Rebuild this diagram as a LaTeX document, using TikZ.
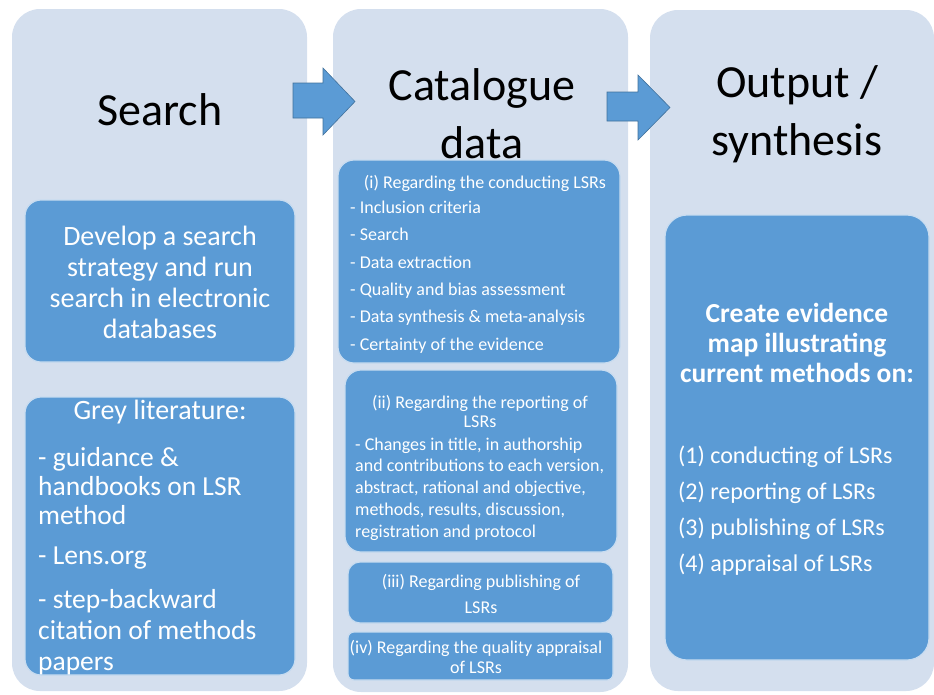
\documentclass[tikz,border=0pt]{standalone}
\usepackage{fontspec}
\setmainfont{Carlito}
\definecolor{panelc}{RGB}{212,223,238}
\definecolor{boxc}{RGB}{91,155,213}
\definecolor{boxedge}{RGB}{200,220,240}
\definecolor{arrowedge}{RGB}{65,113,156}
\begin{document}
\begin{tikzpicture}[x=1pt,y=-1pt,
  panel/.style={fill=panelc,draw=none,rounded corners=28pt,inner sep=0pt},
  ibox/.style={fill=boxc,draw=boxedge,line width=1.2pt,rounded corners=16pt,inner sep=0pt},
  title/.style={font=\fontsize{46}{58}\selectfont,align=center,text=black,inner sep=0pt},
  wtext/.style={text=white,inner sep=0pt},
  blockarrow/.style={fill=boxc,draw=arrowedge,line width=0.6pt}
]
\useasboundingbox (0,0) rectangle (934,694);
% panels
\node[panel,minimum width=295pt,minimum height=682pt] (p1) at (159.5,350) {};
\node[panel,minimum width=295pt,minimum height=683pt] (p2) at (480.5,350.5) {};
\node[panel,minimum width=284pt,minimum height=681pt] (p3) at (792,350.5) {};
% titles
\node[title] (t1) at (160,110) {Search};
\node[title] (t2) at (482,114) {Catalogue\\data};
\node[title] (t3) at (797,114) {Output /\\synthesis};
% arrows
\draw[blockarrow] (293,83) -- (323,83) -- (323,68) -- (355,101.5) -- (323,135) -- (323,118) -- (293,118) -- cycle;
\draw[blockarrow] (607,92) -- (638,92) -- (638,75) -- (670,107.5) -- (638,140) -- (638,121) -- (607,121) -- cycle;
% left boxes
\node[ibox,minimum width=270pt,minimum height=162pt] (l1) at (160,281) {};
\node[wtext,align=center,font=\fontsize{28}{31}\selectfont] (l1t) at (160,282) {Develop a search\\strategy and run\\search in electronic\\databases};
\node[ibox,minimum width=270pt,minimum height=278pt] (l2) at (160,536) {};
\node[wtext,font=\fontsize{28}{30}\selectfont] (l2h) at (160,412) {Grey literature:};
\node[wtext,anchor=west,align=left,font=\fontsize{27.5}{29}\selectfont] (l2a) at (38,486) {- guidance \&\\handbooks on LSR\\method};
\node[wtext,anchor=west,align=left,font=\fontsize{27.5}{30}\selectfont] (l2b) at (38,558) {- Lens.org};
\node[wtext,anchor=west,align=left,font=\fontsize{27.5}{31}\selectfont] (l2c) at (38,632) {- step-backward\\citation of methods\\papers};
% middle boxes
\node[ibox,minimum width=282pt,minimum height=203pt] (m1) at (479,261.5) {};
\node[wtext,font=\fontsize{18}{27}\selectfont] (m1h) at (485,183) {(i) Regarding the conducting LSRs};
\node[wtext,anchor=west,align=left,font=\fontsize{18}{27.3}\selectfont] (m1t) at (350,277) {- Inclusion criteria\\- Search\\- Data extraction\\- Quality and bias assessment\\- Data synthesis \& meta-analysis\\- Certainty of the evidence};
\node[ibox,minimum width=272pt,minimum height=182pt] (m2) at (481,461) {};
\node[wtext,align=center,font=\fontsize{18}{19}\selectfont] (m2h) at (480,411) {(ii) Regarding the reporting of\\LSRs};
\node[wtext,anchor=west,align=left,font=\fontsize{18}{21.8}\selectfont] (m2t) at (355,489) {- Changes in title, in authorship\\and contributions to each version,\\abstract, rational and objective,\\methods, results, discussion,\\registration and protocol};
\node[ibox,minimum width=265pt,minimum height=61pt,rounded corners=12pt] (m3) at (480.5,592.5) {};
\node[wtext,align=center,font=\fontsize{18}{26}\selectfont] (m3t) at (481,594) {(iii) Regarding publishing of\\LSRs};
\node[ibox,minimum width=265pt,minimum height=48pt,rounded corners=6pt] (m4) at (480.5,656) {};
\node[wtext,align=center,font=\fontsize{18}{20}\selectfont] (m4t) at (476,657) {(iv) Regarding the quality appraisal\\of LSRs};
% right box
\node[ibox,minimum width=264pt,minimum height=445pt,rounded corners=22pt] (r1) at (797,437.5) {};
\node[wtext,align=center,font=\bfseries\fontsize{27.5}{30}\selectfont] (r1h) at (797,343) {Create evidence\\map illustrating\\current methods on:};
\node[wtext,anchor=west,align=left,font=\fontsize{24}{36}\selectfont] (r1t) at (678,511) {(1) conducting of LSRs\\(2) reporting of LSRs\\(3) publishing of LSRs\\(4) appraisal of LSRs};
\end{tikzpicture}
\end{document}
